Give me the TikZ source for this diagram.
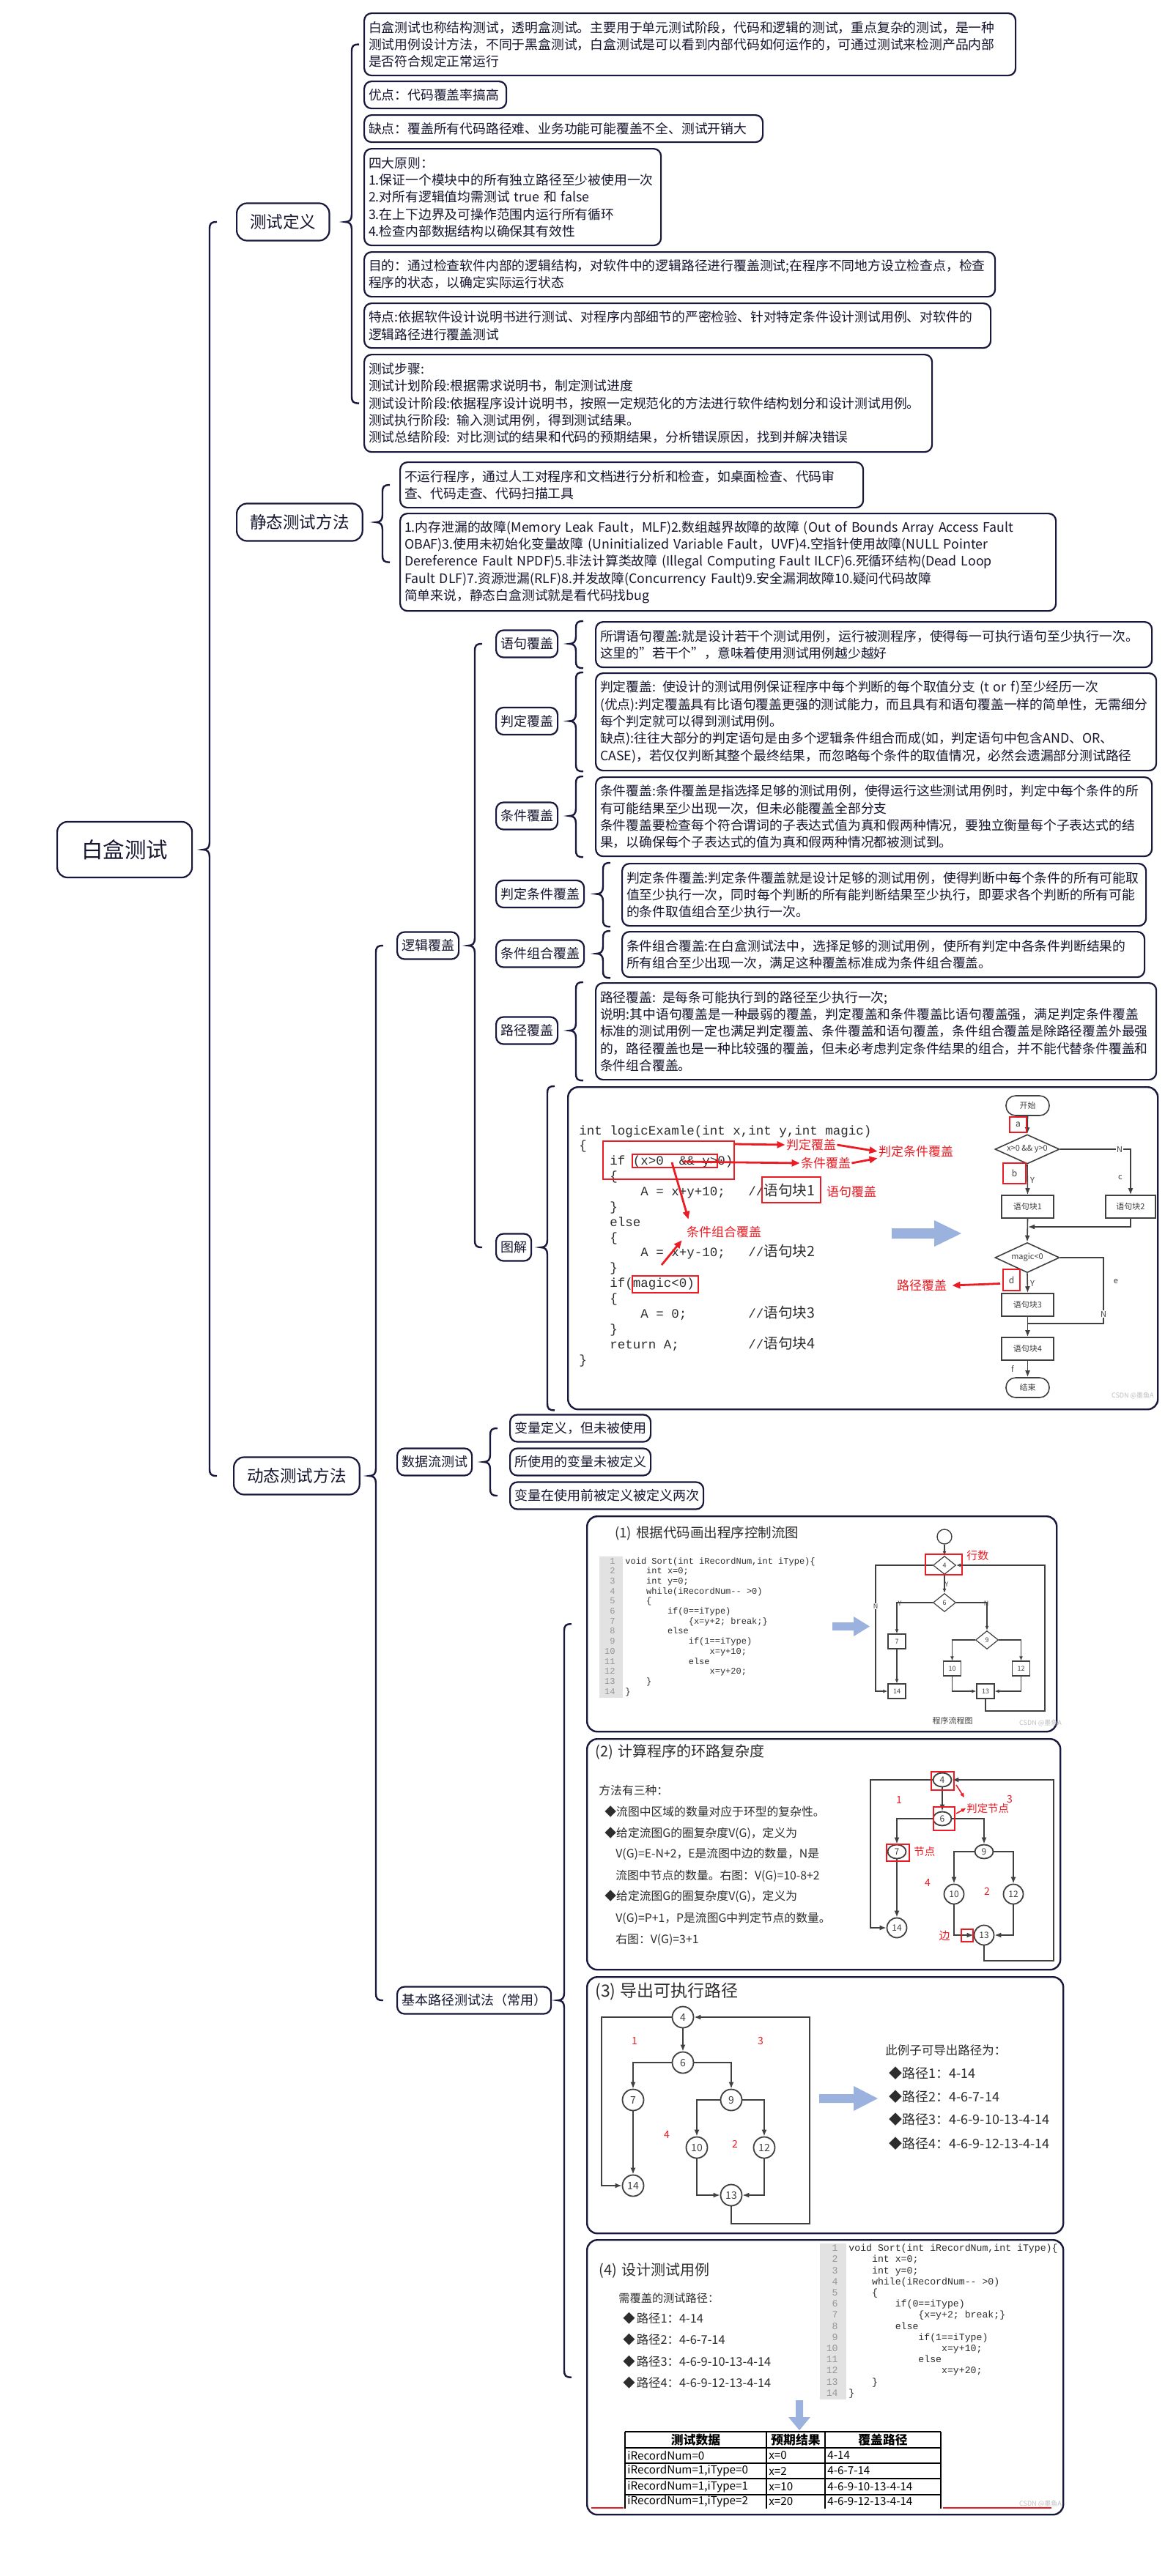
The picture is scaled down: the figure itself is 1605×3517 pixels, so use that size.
\documentclass[tikz,border=0pt]{standalone}
\usepackage{fontspec}
\setmainfont{Noto Sans CJK SC}
\newfontfamily\cjk{Noto Sans CJK SC}
\newfontfamily\mono{Liberation Mono}
\usetikzlibrary{arrows.meta,shapes.geometric,calc}
\definecolor{navy}{RGB}{24,24,60}
\definecolor{txt}{RGB}{22,22,48}
\definecolor{redc}{RGB}{236,28,36}
\definecolor{bluea}{RGB}{155,178,222}
\definecolor{gline}{RGB}{64,64,64}
\definecolor{numbg}{RGB}{226,226,226}
\definecolor{numfg}{RGB}{150,150,150}
\definecolor{codec}{RGB}{45,45,45}
\definecolor{wm}{RGB}{190,190,190}
\newcommand\ind[1]{\hspace*{#1em}}
\newcommand\TB[6]{%
  \pgfmathsetmacro\tbw{(#4-#2)*0.5-6}%
  \pgfmathsetmacro\tbh{(#5-#3)*0.5}%
  \node[tbox,anchor=north west,text width=\tbw pt,minimum height=\tbh pt] (#1) at (#2,#3) {#6};}
\newcommand\brc[5]{%
  \draw[brc] let \p1=(#2), \p2=(#3), \p3=(#4), \p4=(#5) in
   (\x4-#1+5pt,\y1) .. controls (\x4-#1+1pt,\y1) and (\x4-#1,\y1-1pt) .. (\x4-#1,\y1-5pt)
   -- (\x4-#1,\y2+5pt) .. controls (\x4-#1,\y2+1.5pt) and (\x4-#1-1.5pt,\y2) .. (\x4-#1-4.5pt,\y2)
   .. controls (\x4-#1-1.5pt,\y2) and (\x4-#1,\y2-1.5pt) .. (\x4-#1,\y2-5pt)
   -- (\x4-#1,\y3+5pt) .. controls (\x4-#1,\y3+1pt) and (\x4-#1+1pt,\y3) .. (\x4-#1+5pt,\y3);}
\begin{document}
\begin{tikzpicture}[x=0.5pt,y=-0.5pt,
 box/.style={draw=navy,line width=1.1pt,rounded corners=5pt,fill=white,text=txt},
 tbox/.style={box,align=left,inner xsep=3pt,inner ysep=1pt,font=\fontsize{8.9}{11.65}\selectfont},
 n0/.style={box,font=\fontsize{14.75}{16}\selectfont,minimum height=38pt,inner xsep=16.5pt,rounded corners=7pt},
 n1/.style={box,font=\fontsize{11.3}{13}\selectfont,minimum height=25.5pt,inner xsep=9pt,rounded corners=7pt},
 n2/.style={box,font=\fontsize{9}{11}\selectfont,minimum height=18.5pt,inner xsep=3pt},
 imgbox/.style={box,line width=1.2pt,rounded corners=7pt,inner sep=0pt,anchor=north west},
 brc/.style={draw=navy,line width=1.2pt},
 fl/.style={draw=gline,line width=0.8pt},
 fla/.style={fl,-{Latex[length=4.5pt,width=3.5pt]}},
 fls/.style={draw=gline,line width=0.6pt,-{Latex[length=3pt,width=2.5pt]}},
 fbox/.style={draw=gline,line width=0.8pt,fill=white,text=gline,inner sep=0pt,font=\fontsize{5.5}{6}\selectfont},
 sbox/.style={draw=gline,line width=0.6pt,fill=white,text=gline,inner sep=0pt,font=\fontsize{4.5}{5}\selectfont},
 gnode/.style={draw=gline,ellipse,line width=0.9pt,fill=white,text=gline,inner sep=0pt,font=\fontsize{6}{6}\selectfont},
 gcirc/.style={draw=gline,circle,line width=0.9pt,fill=white,text=gline,inner sep=0pt,minimum size=14.5pt,font=\fontsize{7}{7}\selectfont},
 lab/.style={text=gline,inner sep=0.5pt,font=\fontsize{5.5}{6}\selectfont},
 slab/.style={text=gline,inner sep=0.3pt,font=\fontsize{4.5}{5}\selectfont},
 rbox/.style={draw=redc,line width=1pt,inner sep=0pt,anchor=north west},
 rtxt/.style={text=redc,inner sep=0.5pt,font=\fontsize{8.5}{9}\selectfont},
 rnum/.style={text=redc,inner sep=0.5pt,font=\fontsize{7}{8}\selectfont},
 rarr/.style={draw=redc,line width=1.4pt,-{Triangle[length=5.5pt,width=4.5pt]}},
 rarrs/.style={draw=redc,line width=0.8pt,-{Triangle[length=3pt,width=2.5pt]}},
 code/.style={inner sep=0pt,anchor=base west,text=codec},
 ptxt/.style={inner sep=0pt,anchor=base west,text=codec},
 htxt/.style={inner sep=0pt,anchor=west,text=codec},
 wmk/.style={text=wm,inner sep=0pt,font=\fontsize{4.5}{5}\selectfont},
 cell/.style={inner sep=0pt,anchor=west,text=black,font=\fontsize{7.6}{9}\selectfont},
 hcell/.style={inner sep=0pt,text=black,font=\fontsize{8.4}{9}\selectfont\bfseries},
]
\useasboundingbox (0,0) rectangle (1605,3517);
\fill[white] (0,0) rectangle (1605,3517);

% ---------------- tree -----------------
\node[n0,anchor=west] (root) at (77,1160) {白盒测试};
\node[n1,anchor=west] (def) at (322,303) {测试定义};
\node[n1,anchor=west] (stat) at (322,713) {静态测试方法};
\node[n1,anchor=west] (dyn) at (318,2015) {动态测试方法};
\brc{18pt}{def.west}{root.east}{dyn.west}{stat.west}

% 测试定义
\TB{t1}{496}{17}{1385}{102}{白盒测试也称结构测试，透明盒测试。主要用于单元测试阶段，代码和逻辑的测试，重点复杂的测试，是一种\\测试用例设计方法，不同于黑盒测试，白盒测试是可以看到内部代码如何运作的，可通过测试来检测产品内部\\是否符合规定正常运行}
\TB{t2}{496}{110}{690}{147}{优点：代码覆盖率搞高}
\TB{t3}{496}{156}{1040}{193}{缺点：覆盖所有代码路径难、业务功能可能覆盖不全、测试开销大}
\TB{t4}{496}{202}{901}{334}{四大原则：\\1.保证一个模块中的所有独立路径至少被使用一次\\2.对所有逻辑值均需测试 true 和 false\\3.在上下边界及可操作范围内运行所有循环\\4.检查内部数据结构以确保其有效性}
\TB{t5}{496}{343}{1357}{404}{目的：通过检查软件内部的逻辑结构，对软件中的逻辑路径进行覆盖测试;在程序不同地方设立检查点，检查\\程序的状态，以确定实际运行状态}
\TB{t6}{496}{413}{1351}{474}{特点:依据软件设计说明书进行测试、对程序内部细节的严密检验、针对特定条件设计测试用例、对软件的\\逻辑路径进行覆盖测试}
\TB{t7}{496}{483}{1271}{616}{测试步骤:\\测试计划阶段:根据需求说明书，制定测试进度\\测试设计阶段:依据程序设计说明书，按照一定规范化的方法进行软件结构划分和设计测试用例。\\测试执行阶段: 输入测试用例，得到测试结果。\\测试总结阶段: 对比测试的结果和代码的预期结果，分析错误原因，找到并解决错误}
\brc{8pt}{t1.west}{def.east}{t7.west}{t1.west}

% 静态测试方法
\TB{s1}{545}{630}{1177}{692}{不运行程序，通过人工对程序和文档进行分析和检查，如桌面检查、代码审\\查、代码走查、代码扫描工具}
\TB{s2}{545}{700}{1440}{833}{1.内存泄漏的故障(Memory Leak Fault，MLF)2.数组越界故障的故障 (Out of Bounds Array Access Fault\\OBAF)3.使用未初始化变量故障 (Uninitialized Variable Fault，UVF)4.空指针使用故障(NULL Pointer\\Dereference Fault NPDF)5.非法计算类故障 (Illegal Computing Fault ILCF)6.死循环结构(Dead Loop\\Fault DLF)7.资源泄漏(RLF)8.并发故障(Concurrency Fault)9.安全漏洞故障10.疑问代码故障\\简单来说，静态白盒测试就是看代码找bug}
\brc{11.5pt}{s1.west}{stat.east}{s2.west}{s1.west}

% 动态测试方法
\node[n2,anchor=west] (logic) at (541,1291) {逻辑覆盖};
\node[n2,anchor=west] (flow) at (541,1996) {数据流测试};
\node[n2,anchor=west] (basic) at (541,2731) {基本路径测试法（常用）};
\brc{14pt}{logic.west}{dyn.east}{basic.west}{logic.west}

% 逻辑覆盖
\node[n2,anchor=west] (c1) at (676,879) {语句覆盖};
\node[n2,anchor=west] (c2) at (676,984.5) {判定覆盖};
\node[n2,anchor=west] (c3) at (676,1114) {条件覆盖};
\node[n2,anchor=west] (c4) at (676,1220.5) {判定条件覆盖};
\node[n2,anchor=west] (c5) at (676,1302) {条件组合覆盖};
\node[n2,anchor=west] (c6) at (676,1407) {路径覆盖};
\node[n2,anchor=west] (c7) at (676,1703) {图解};
\brc{14pt}{c1.west}{logic.east}{c7.west}{c1.west}

\TB{l1}{812}{848}{1571}{910}{所谓语句覆盖:就是设计若干个测试用例，运行被测程序，使得每一可执行语句至少执行一次。\\这里的"若干个"，意味着使用测试用例越少越好}
\TB{l2}{812}{918}{1577}{1051}{判定覆盖: 使设计的测试用例保证程序中每个判断的每个取值分支 (t or f)至少经历一次\\(优点):判定覆盖具有比语句覆盖更强的测试能力，而且具有和语句覆盖一样的简单性，无需细分\\每个判定就可以得到测试用例。\\缺点):往往大部分的判定语句是由多个逻辑条件组合而成(如，判定语句中包含AND、OR、\\CASE)，若仅仅判断其整个最终结果，而忽略每个条件的取值情况，必然会遗漏部分测试路径}
\TB{l3}{812}{1060}{1571}{1168}{条件覆盖:条件覆盖是指选择足够的测试用例，使得运行这些测试用例时，判定中每个条件的所\\有可能结果至少出现一次，但未必能覆盖全部分支\\条件覆盖要检查每个符合谓词的子表达式值为真和假两种情况，要独立衡量每个子表达式的结\\果，以确保每个子表达式的值为真和假两种情况都被测试到。}
\TB{l4}{848}{1178}{1563}{1263}{判定条件覆盖:判定条件覆盖就是设计足够的测试用例，使得判断中每个条件的所有可能取\\值至少执行一次，同时每个判断的所有能判断结果至少执行，即要求各个判断的所有可能\\的条件取值组合至少执行一次。}
\TB{l5}{848}{1271}{1561}{1333}{条件组合覆盖:在白盒测试法中，选择足够的测试用例，使所有判定中各条件判断结果的\\所有组合至少出现一次，满足这种覆盖标准成为条件组合覆盖。}
\TB{l6}{812}{1341}{1577}{1473}{路径覆盖: 是每条可能执行到的路径至少执行一次;\\说明:其中语句覆盖是一种最弱的覆盖，判定覆盖和条件覆盖比语句覆盖强，满足判定条件覆盖\\标准的测试用例一定也满足判定覆盖、条件覆盖和语句覆盖，条件组合覆盖是除路径覆盖外最强\\的，路径覆盖也是一种比较强的覆盖，但未必考虑判定条件结果的组合，并不能代替条件覆盖和\\条件组合覆盖。}
\brc{13pt}{l1.north west}{c1.east}{l1.south west}{l1.west}
\brc{13pt}{l2.north west}{c2.east}{l2.south west}{l2.west}
\brc{13pt}{l3.north west}{c3.east}{l3.south west}{l3.west}
\brc{12.5pt}{l4.north west}{c4.east}{l4.south west}{l4.west}
\brc{12.5pt}{l5.north west}{c5.east}{l5.south west}{l5.west}
\brc{13pt}{l6.north west}{c6.east}{l6.south west}{l6.west}

% 图解 image
\node[imgbox,minimum width=402.5pt,minimum height=220pt] (img) at (774,1483) {};
\brc{13.5pt}{img.north west}{c7.east}{img.south west}{img.west}
\foreach \ctext [count=\i] in {
 {int logicExamle(int x,int y,int magic)},
 {\{},
 {\ind{2.4}if (x>0\ind{1.2}\&\& y>0)},
 {\ind{2.4}\{},
 {\ind{4.8}A = x+y+10;\ind{1.8}//\smash{\cjk\fontsize{9.8}{10}\selectfont 语句块1}},
 {\ind{2.4}\}},
 {\ind{2.4}else},
 {\ind{2.4}\{},
 {\ind{4.8}A = x+y-10;\ind{1.8}//\smash{\cjk\fontsize{9.8}{10}\selectfont 语句块2}},
 {\ind{2.4}\}},
 {\ind{2.4}if(magic<0)},
 {\ind{2.4}\{},
 {\ind{4.8}A = 0;\ind{4.8}//\smash{\cjk\fontsize{9.8}{10}\selectfont 语句块3}},
 {\ind{2.4}\}},
 {\ind{2.4}return A;\ind{5.4}//\smash{\cjk\fontsize{9.8}{10}\selectfont 语句块4}},
 {\}}}
 {\node[code,font=\mono\fontsize{8.75}{10}\selectfont] (gc\i) at (790,{1549+(\i-1)*20.87}) {\ctext};}
\node[rbox,minimum width=89.5pt,minimum height=26pt] (rb1) at (822,1557) {};
\node[rbox,minimum width=58pt,minimum height=9pt] (rb2) at (862,1575) {};
\node[rbox,minimum width=40pt,minimum height=17.5pt] (rb3) at (1039,1606) {};
\node[rbox,minimum width=45pt,minimum height=11.5pt] (rb4) at (862,1741) {};
\node[rtxt] (a1) at (1107,1563) {判定覆盖};
\node[rtxt] (a2) at (1250,1572) {判定条件覆盖};
\node[rtxt] (a3) at (1127,1588) {条件覆盖};
\node[rtxt] (a4) at (1162,1627) {语句覆盖};
\node[rtxt] (a5) at (988,1682) {条件组合覆盖};
\node[rtxt] (a6) at (1258,1755) {路径覆盖};
\draw[rarr] ($(rb1.north east)+(0,5)$) -- (a1.west);
\draw[rarr] (a1.east) -- (a2.west);
\coordinate (k1) at (932,1586);
\draw[rarr] (k1) -- (a3.west);
\draw[rarr] (a3.east) -- (a2.south west);
\coordinate (k2) at (917,1587);
\draw[rarr] (k2) -- ($(a5.north west)+(4,-8)$);
\coordinate (k3) at (903,1727);
\draw[rarr] (k3) -- ($(a5.south west)+(-5,2)$);
\fill[bluea] (1217,1677) -- (1275,1677) -- (1275,1666) -- (1312,1684) -- (1275,1702) -- (1275,1691) -- (1217,1691) -- cycle;
% flowchart
\node[fbox,rounded corners=6.5pt,minimum width=29.5pt,minimum height=13.5pt] (fs) at (1402.5,1509.5) {开始};
\node[fbox,diamond,aspect=2.2,minimum width=44pt,minimum height=20pt] (fd1) at (1402,1569) {x>0 \&\& y>0};
\node[fbox,minimum width=35.5pt,minimum height=15.5pt] (fb1) at (1402.5,1647.5) {语句块1};
\node[fbox,minimum width=34pt,minimum height=15.5pt] (fb2) at (1543,1647.5) {语句块2};
\node[fbox,diamond,aspect=2.2,minimum width=44pt,minimum height=20.5pt] (fd2) at (1402,1717) {magic<0};
\node[fbox,minimum width=35.5pt,minimum height=15.5pt] (fb3) at (1402.5,1781.5) {语句块3};
\node[fbox,minimum width=35.5pt,minimum height=15.5pt] (fb4) at (1402.5,1841.5) {语句块4};
\node[fbox,rounded corners=6.5pt,minimum width=29.5pt,minimum height=13.5pt] (fe) at (1402.5,1894.5) {结束};
\draw[fla] (fs.south) -- (fd1.north);
\draw[fla] (fd1.south) -- (fb1.north);
\draw[fla] (fd1.east) -| (fb2.north);
\coordinate (j1) at (1403,1675);
\draw[fla] (fb2.south) |- (j1);
\draw[fla] (fb1.south) -- (fd2.north);
\draw[fla] (fd2.south) -- (fb3.north);
\coordinate (j2) at (1506,1807);
\draw[fl] (fd2.east) -| (j2) -- (fb3.south |- j2);
\draw[fla] (fb3.south) -- (fb4.north);
\draw[fla] (fb4.south) -- (fe.north);
\node[rbox,anchor=center,minimum width=11.5pt,minimum height=10.5pt,font=\fontsize{6}{6}\selectfont,text=gline] (ra) at (1389.5,1535.5) {a};
\node[rbox,anchor=center,minimum width=15.5pt,minimum height=14pt,font=\fontsize{6}{6}\selectfont,text=gline] (rbb) at (1384.5,1602) {b};
\node[rbox,anchor=center,minimum width=11.5pt,minimum height=14.5pt,font=\fontsize{6}{6}\selectfont,text=gline] (rd) at (1380.5,1747.5) {d};
\node[lab,fill=white] (ln1) at (1528,1569) {N};
\node[lab] (lc) at (1529,1607) {c};
\node[lab] (ly1) at (1409,1611) {Y};
\node[lab] (ly2) at (1409,1752) {Y};
\node[lab] (le) at (1523,1749) {e};
\node[lab,fill=white] (ln2) at (1506,1794) {N};
\node[lab] (lf) at (1382,1869) {f};
\draw[rarr] ($(rd.west)+(-3,5)$) -- ($(a6.east)+(6,0)$);
\node[wmk,anchor=east] (wm1) at (1575,1905) {CSDN @墨鱼A};

% 数据流测试
\node[n2,anchor=west] (f1) at (695,1950) {变量定义，但未被使用};
\node[n2,anchor=west] (f2) at (695,1996) {所使用的变量未被定义};
\node[n2,anchor=west] (f3) at (695,2042) {变量在使用前被定义被定义两次};
\brc{13pt}{f1.west}{flow.east}{f3.west}{f1.west}

% 基本路径测试法
\node[imgbox,minimum width=320.5pt,minimum height=147pt] (b1) at (800,2069) {};
\node[imgbox,minimum width=323pt,minimum height=157.5pt] (b2) at (800,2373) {};
\node[imgbox,minimum width=325pt,minimum height=175pt] (b3) at (800,2698) {};
\node[imgbox,minimum width=325pt,minimum height=187.5pt] (b4) at (800,3057) {};
\brc{15pt}{b1.west}{basic.east}{b4.west}{b1.west}

% (1)
\node[htxt,font=\fontsize{9.25}{10}\selectfont] (h1) at (839,2093) {(1)\hspace{3pt}根据代码画出程序控制流图};
\fill[numbg] (818,2125) rectangle (850,2318);
\foreach \ctext [count=\i] in {
 {void Sort(int iRecordNum,int iType)\{},
 {\ind{2.4}int x=0;},
 {\ind{2.4}int y=0;},
 {\ind{2.4}while(iRecordNum-{}- >0)},
 {\ind{2.4}\{},
 {\ind{4.8}if(0==iType)},
 {\ind{7.2}\{x=y+2; break;\}},
 {\ind{4.8}else},
 {\ind{7.2}if(1==iType)},
 {\ind{9.6}x=y+10;},
 {\ind{7.2}else},
 {\ind{9.6}x=y+20;},
 {\ind{2.4}\}},
 {\}}}
 {\node[code,font=\mono\fontsize{6}{7}\selectfont] (ca\i) at (853,{2135+(\i-1)*13.7}) {\ctext};
  \node[code,anchor=base east,text=numfg,font=\mono\fontsize{6}{7}\selectfont] (na\i) at (840,{2135+(\i-1)*13.7}) {\i};}
\fill[bluea] (1136,2215) -- (1165,2215) -- (1165,2207) -- (1187,2220.5) -- (1165,2234) -- (1165,2226) -- (1136,2226) -- cycle;
\node[draw=gline,circle,line width=0.7pt,minimum size=10pt,inner sep=0pt] (s0) at (1289,2098) {};
\node[sbox,diamond,aspect=1.25,minimum width=15.5pt,minimum height=12.5pt] (d4) at (1289,2137) {4};
\node[sbox,diamond,aspect=1.25,minimum width=15.5pt,minimum height=12.5pt] (d6) at (1289,2188) {6};
\node[sbox,diamond,aspect=1.25,minimum width=15.5pt,minimum height=12.5pt] (d9) at (1347,2239) {9};
\node[sbox,minimum width=12pt,minimum height=10pt] (bx7) at (1224,2241) {7};
\node[sbox,minimum width=12pt,minimum height=10pt] (bx14) at (1224,2309) {14};
\node[sbox,minimum width=12pt,minimum height=10pt] (bx10) at (1299.5,2278) {10};
\node[sbox,minimum width=12pt,minimum height=10pt] (bx12) at (1393.5,2278) {12};
\node[sbox,minimum width=12pt,minimum height=10pt] (bx13) at (1345,2309) {13};
\draw[fls] (s0.south) -- (d4.north);
\draw[fls] (d4.south) -- (d6.north);
\coordinate (p1l) at (1195,2309);
\draw[fls] (d4.west) -| (p1l) -- (bx14.west);
\draw[fls] (d6.west) -| (bx7.north);
\draw[fls] (d6.east) -| (d9.north);
\draw[fls] (bx7.south) -- (bx14.north);
\draw[fls] (d9.west) -| (bx10.north);
\draw[fls] (d9.east) -| (bx12.north);
\draw[fls] (bx10.south) |- (bx13.west);
\draw[fls] (bx12.south) |- (bx13.east);
\coordinate (p1r) at (1426,2336);
\draw[fls] (bx13.south) |- (p1r) |- (d4.east);
\node[slab] (y1a) at (1292,2163) {Y};
\node[slab,fill=white] (n1a) at (1195,2193) {N};
\node[slab] (y1b) at (1228,2189) {Y};
\node[slab] (n1b) at (1346,2189) {N};
\node[rbox,minimum width=25pt,minimum height=14pt] (r1) at (1262,2121) {};
\node[rtxt,anchor=west,font=\fontsize{7.5}{8}\selectfont] (hs) at (1318,2124) {行数};
\node[lab] (cap1) at (1300,2349) {程序流程图};
\node[wmk] (wm2) at (1420,2352) {CSDN @墨鱼A};

% (2)
\node[htxt,font=\fontsize{10}{11}\selectfont] (h2) at (812,2392) {(2)\hspace{3pt}计算程序的环路复杂度};
\node[ptxt,font=\fontsize{7.9}{9}\selectfont] (p21) at (817,2450) {方法有三种：};
\node[ptxt,font=\fontsize{7.9}{9}\selectfont] (p22) at (825,2479) {◆流图中区域的数量对应于环型的复杂性。};
\node[ptxt,font=\fontsize{7.9}{9}\selectfont] (p23) at (825,2508) {◆给定流图G的圈复杂度V(G)，定义为};
\node[ptxt,font=\fontsize{7.9}{9}\selectfont] (p24) at (840,2536) {V(G)=E-N+2，E是流图中边的数量，N是};
\node[ptxt,font=\fontsize{7.9}{9}\selectfont] (p25) at (840,2566) {流图中节点的数量。右图：V(G)=10-8+2};
\node[ptxt,font=\fontsize{7.9}{9}\selectfont] (p26) at (825,2594) {◆给定流图G的圈复杂度V(G)，定义为};
\node[ptxt,font=\fontsize{7.9}{9}\selectfont] (p27) at (840,2624) {V(G)=P+1，P是流图G中判定节点的数量。};
\node[ptxt,font=\fontsize{7.9}{9}\selectfont] (p28) at (840,2653) {右图：V(G)=3+1};
\node[gnode,minimum width=12.5pt,minimum height=9.5pt] (n4) at (1286,2430) {4};
\node[gnode,minimum width=12.5pt,minimum height=9.5pt] (n6) at (1286,2483) {6};
\node[gnode,minimum width=12.5pt,minimum height=9.5pt] (n7) at (1224,2528) {7};
\node[gnode,minimum width=12.5pt,minimum height=9.5pt] (n9) at (1343,2528) {9};
\node[gnode,minimum width=13.5pt,minimum height=13.5pt] (n10) at (1302,2586) {10};
\node[gnode,minimum width=13.5pt,minimum height=13.5pt] (n12) at (1383,2586) {12};
\node[gnode,minimum width=13.5pt,minimum height=13.5pt] (n14) at (1224,2632) {14};
\node[gnode,minimum width=13.5pt,minimum height=13.5pt] (n13) at (1343,2642) {13};
\draw[fla] (n4.south) -- (n6.north);
\draw[fla] (n6.west) -| (n7.north);
\draw[fla] (n6.east) -| (n9.north);
\draw[fla] (n7.south) -- (n14.north);
\draw[fla] (n9.west) -| (n10.north);
\draw[fla] (n9.east) -| (n12.north);
\draw[fla] (n10.south) |- (n13.west);
\draw[fla] (n12.south) |- (n13.east);
\coordinate (q2r) at (1438,2677);
\draw[fla] (n13.south) |- (q2r) |- (n4.east);
\coordinate (q2l) at (1188,2632);
\draw[fla] (n4.west) -| (q2l) -- (n14.west);
\node[rbox,minimum width=15.5pt,minimum height=12.5pt] (r21) at (1270,2418) {};
\node[rbox,minimum width=14.5pt,minimum height=16pt] (r22) at (1273,2466) {};
\node[rbox,minimum width=15.5pt,minimum height=11.5pt] (r23) at (1209,2517) {};
\node[rbox,minimum width=8pt,minimum height=8.5pt] (r24) at (1311,2633) {};
\node[rnum] (q1) at (1227,2457) {1};
\node[rnum] (q3) at (1378,2456) {3};
\node[rnum] (q4) at (1266,2570) {4};
\node[rnum] (q2) at (1347,2582) {2};
\node[rtxt,anchor=west,font=\fontsize{7.2}{8}\selectfont] (q5) at (1318,2469) {判定节点};
\node[rtxt,anchor=west,font=\fontsize{7.2}{8}\selectfont] (q6) at (1246,2528) {节点};
\node[rtxt,font=\fontsize{7.5}{8}\selectfont] (q7) at (1289,2643) {边};
\coordinate (u1) at (1305,2437);
\draw[rarrs] (u1) -- (1316,2454);
\coordinate (u2) at (1305,2476);
\draw[rarrs] (u2) -- (q5.west);

% (3)
\node[htxt,font=\fontsize{11.5}{12}\selectfont] (h3) at (812,2719) {(3)\hspace{3pt}导出可执行路径};
\node[gcirc] (m4) at (932,2754) {4};
\node[gcirc] (m6) at (932,2816) {6};
\node[gcirc] (m7) at (864,2867) {7};
\node[gcirc] (m9) at (998,2867) {9};
\node[gcirc] (m10) at (951,2932) {10};
\node[gcirc] (m12) at (1043,2932) {12};
\node[gcirc] (m14) at (864,2984) {14};
\node[gcirc] (m13) at (998,2997) {13};
\draw[fla] (m4.south) -- (m6.north);
\draw[fla] (m6.west) -| (m7.north);
\draw[fla] (m6.east) -| (m9.north);
\draw[fla] (m7.south) -- (m14.north);
\draw[fla] (m9.west) -| (m10.north);
\draw[fla] (m9.east) -| (m12.north);
\draw[fla] (m10.south) |- (m13.west);
\draw[fla] (m12.south) |- (m13.east);
\coordinate (q3r) at (1105,3036);
\draw[fla] (m13.south) |- (q3r) |- (m4.east);
\coordinate (q3l) at (821,2984);
\draw[fla] (m4.west) -| (q3l) -- (m14.west);
\node[rnum] (v1) at (866,2786) {1};
\node[rnum] (v3) at (1038,2786) {3};
\node[rnum] (v4) at (910,2914) {4};
\node[rnum] (v2) at (1003,2927) {2};
\fill[bluea] (1118,2859) -- (1165,2859) -- (1165,2848) -- (1198,2865) -- (1165,2882) -- (1165,2871) -- (1118,2871) -- cycle;
\node[ptxt,font=\fontsize{8.25}{9}\selectfont] (p31) at (1208,2805) {此例子可导出路径为：};
\node[ptxt,font=\fontsize{9}{10}\selectfont] (p32) at (1213,2837) {◆路径1：4-14};
\node[ptxt,font=\fontsize{9}{10}\selectfont] (p33) at (1213,2869) {◆路径2：4-6-7-14};
\node[ptxt,font=\fontsize{9}{10}\selectfont] (p34) at (1213,2900) {◆路径3：4-6-9-10-13-4-14};
\node[ptxt,font=\fontsize{9}{10}\selectfont] (p35) at (1213,2933) {◆路径4：4-6-9-12-13-4-14};

% (4)
\node[htxt,font=\fontsize{10}{11}\selectfont] (h4) at (817,3100) {(4)\hspace{3pt}设计测试用例};
\node[ptxt,font=\fontsize{7.6}{9}\selectfont] (p41) at (844,3143) {需覆盖的测试路径：};
\node[ptxt,font=\fontsize{8.2}{9}\selectfont] (p42) at (850,3171) {◆\hspace{1pt}路径1：4-14};
\node[ptxt,font=\fontsize{8.2}{9}\selectfont] (p43) at (850,3200) {◆\hspace{1pt}路径2：4-6-7-14};
\node[ptxt,font=\fontsize{8.2}{9}\selectfont] (p44) at (850,3230) {◆\hspace{1pt}路径3：4-6-9-10-13-4-14};
\node[ptxt,font=\fontsize{8.2}{9}\selectfont] (p45) at (850,3259) {◆\hspace{1pt}路径4：4-6-9-12-13-4-14};
\fill[numbg] (1119,3063) rectangle (1155,3276);
\foreach \ctext [count=\i] in {
 {void Sort(int iRecordNum,int iType)\{},
 {\ind{2.4}int x=0;},
 {\ind{2.4}int y=0;},
 {\ind{2.4}while(iRecordNum-{}- >0)},
 {\ind{2.4}\{},
 {\ind{4.8}if(0==iType)},
 {\ind{7.2}\{x=y+2; break;\}},
 {\ind{4.8}else},
 {\ind{7.2}if(1==iType)},
 {\ind{9.6}x=y+10;},
 {\ind{7.2}else},
 {\ind{9.6}x=y+20;},
 {\ind{2.4}\}},
 {\}}}
 {\node[code,font=\mono\fontsize{6.6}{7}\selectfont] (cb\i) at (1158,{3073.6+(\i-1)*15.2}) {\ctext};
  \node[code,anchor=base east,text=numfg,font=\mono\fontsize{6.6}{7}\selectfont] (nb\i) at (1144,{3073.6+(\i-1)*15.2}) {\i};}
\fill[bluea] (1086,3277) -- (1096,3277) -- (1096,3300) -- (1106,3300) -- (1091,3318) -- (1076,3300) -- (1086,3300) -- cycle;
\draw[black,line width=0.6pt] (853,3320) -- (1284,3320) (853,3342) -- (1284,3342) (853,3363) -- (1284,3363) (853,3384) -- (1284,3384) (853,3406) -- (1284,3406);
\draw[black,line width=0.6pt] (853,3320) -- (853,3425) (1046,3320) -- (1046,3425) (1126,3320) -- (1126,3425) (1284,3320) -- (1284,3425);
\node[hcell] (th1) at (949.5,3331) {测试数据};
\node[hcell] (th2) at (1086,3331) {预期结果};
\node[hcell] (th3) at (1205,3331) {覆盖路径};
\node[cell] (r1a) at (856,3352.5) {iRecordNum=0};
\node[cell] (r1b) at (1049,3352.5) {x=0};
\node[cell] (r1c) at (1129,3352.5) {4-14};
\node[cell] (r2a) at (856,3373.5) {iRecordNum=1,iType=0};
\node[cell] (r2b) at (1049,3373.5) {x=2};
\node[cell] (r2c) at (1129,3373.5) {4-6-7-14};
\node[cell] (r3a) at (856,3395) {iRecordNum=1,iType=1};
\node[cell] (r3b) at (1049,3395) {x=10};
\node[cell] (r3c) at (1129,3395) {4-6-9-10-13-4-14};
\node[cell] (r4a) at (856,3415.5) {iRecordNum=1,iType=2};
\node[cell] (r4b) at (1049,3415.5) {x=20};
\node[cell] (r4c) at (1129,3415.5) {4-6-9-12-13-4-14};
\draw[redc,line width=1pt] (807,3424) -- (851,3424);
\draw[redc,line width=1pt] (1287,3424) -- (1435,3424);
\node[wmk] (wm3) at (1420,3418) {CSDN @墨鱼A};
\end{tikzpicture}
\end{document}
